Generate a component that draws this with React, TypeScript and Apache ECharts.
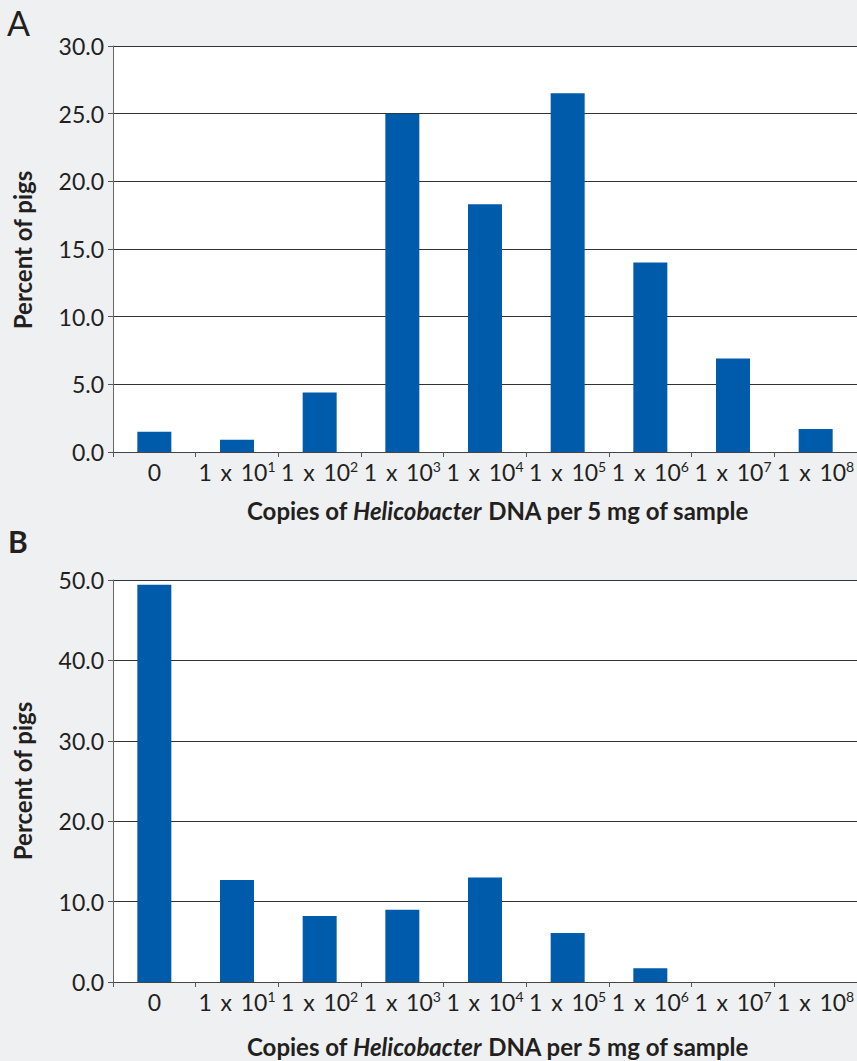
import React, { useEffect, useRef } from "react";
import * as echarts from "echarts";

const categories = ["0", "1 x 10^1", "1 x 10^2", "1 x 10^3", "1 x 10^4", "1 x 10^5", "1 x 10^6", "1 x 10^7", "1 x 10^8"];
const percentA = [1.5, 0.9, 4.4, 25.0, 18.3, 26.5, 14.0, 6.9, 1.7];
const percentB = [49.4, 12.7, 8.2, 9.0, 13.0, 6.1, 1.7, 0, 0];
const yTicksA = { min: 0, max: 30, interval: 5 };
const yTicksB = { min: 0, max: 50, interval: 10 };
const panelLabels = ["A", "B"];
const xTitleParts = ["Copies of ", "Helicobacter", " DNA per 5 mg of sample"];
const yTitle = "Percent of pigs";

const FONT = "Lato, 'Noto Sans', sans-serif";
const TEXT = "#231f20";
const BAR = "#005baa";

export default function App() {
  const ref = useRef<HTMLDivElement>(null);
  useEffect(() => {
    document.body.style.margin = "0";
    if (!ref.current) return;
    const chart = echarts.init(ref.current, undefined, { renderer: "svg" });
    const xLabelFormatter = (v: string) => {
      const parts = v.split("^");
      return parts.length > 1 ? `{a|${parts[0].replace(/ x /g, "\u2009 x \u2009")}}{sup|${parts[1]}}` : `{a|${v}}`;
    };
    const xAxisBase = (gridIndex: number) => ({
      type: "category",
      gridIndex,
      data: categories,
      axisLine: { lineStyle: { color: "#444", width: 1 } },
      axisTick: { show: true, length: 5, lineStyle: { color: "#555" } },
      axisLabel: {
        interval: 0,
        margin: 7,
        formatter: xLabelFormatter,
        rich: {
          a: { fontSize: 23, fontFamily: FONT, color: TEXT, lineHeight: 26 },
          sup: { fontSize: 14, fontFamily: FONT, color: TEXT, lineHeight: 17, verticalAlign: "top" },
        },
      },
    });
    const yAxisBase = (gridIndex: number, t: { min: number; max: number; interval: number }) => ({
      type: "value",
      gridIndex,
      min: t.min,
      max: t.max,
      interval: t.interval,
      axisLine: { show: true, lineStyle: { color: "#666", width: 1 } },
      axisTick: { show: true, length: 5, lineStyle: { color: "#555" } },
      splitLine: { show: true, lineStyle: { color: "#333", width: 1 } },
      axisLabel: {
        margin: 9,
        fontSize: 23,
        fontFamily: FONT,
        color: TEXT,
        formatter: (v: number) => v.toFixed(1),
      },
    });
    const xTitle = (y: number) => ({
      type: "text",
      x: 498,
      y,
      style: {
        text: `{n|${xTitleParts[0]}}{i|${xTitleParts[1]}}{n|${xTitleParts[2]}}`,
        align: "center",
        verticalAlign: "middle",
        rich: {
          n: { fontSize: 24, fontWeight: "bold", fontFamily: FONT, fill: TEXT },
          i: { fontSize: 24, fontWeight: "bold", fontStyle: "italic", fontFamily: FONT, fill: TEXT },
        },
      },
    });
    const yTitleEl = (y: number) => ({
      type: "text",
      x: 22,
      y,
      rotation: Math.PI / 2,
      style: {
        text: yTitle,
        align: "center",
        verticalAlign: "middle",
        fontSize: 24,
        fontWeight: "bold",
        fontFamily: FONT,
        fill: TEXT,
      },
    });
    chart.setOption({
      animation: false,
      backgroundColor: "#eef0f2",
      grid: [
        { left: 113, top: 46, width: 750, height: 406, show: true, backgroundColor: "#fff", borderWidth: 0 },
        { left: 113, top: 580, width: 750, height: 402, show: true, backgroundColor: "#fff", borderWidth: 0 },
      ],
      xAxis: [xAxisBase(0), xAxisBase(1)],
      yAxis: [yAxisBase(0, yTicksA), yAxisBase(1, yTicksB)],
      series: [
        { type: "bar", xAxisIndex: 0, yAxisIndex: 0, data: percentA, barWidth: 34, itemStyle: { color: BAR } },
        { type: "bar", xAxisIndex: 1, yAxisIndex: 1, data: percentB, barWidth: 34, itemStyle: { color: BAR } },
      ],
      graphic: [
        {
          type: "text",
          left: 7,
          top: 5,
          style: { text: panelLabels[0], fontSize: 34, fontFamily: FONT, fill: TEXT },
        },
        {
          type: "text",
          left: 8,
          top: 526,
          style: { text: panelLabels[1], fontSize: 30, fontWeight: "bold", fontFamily: FONT, fill: TEXT },
        },
        xTitle(510),
        xTitle(1046),
        yTitleEl(250),
        yTitleEl(781),
      ],
    });
    return () => chart.dispose();
  }, []);
  return <div ref={ref} style={{ width: 857, height: 1061 }} />;
}
